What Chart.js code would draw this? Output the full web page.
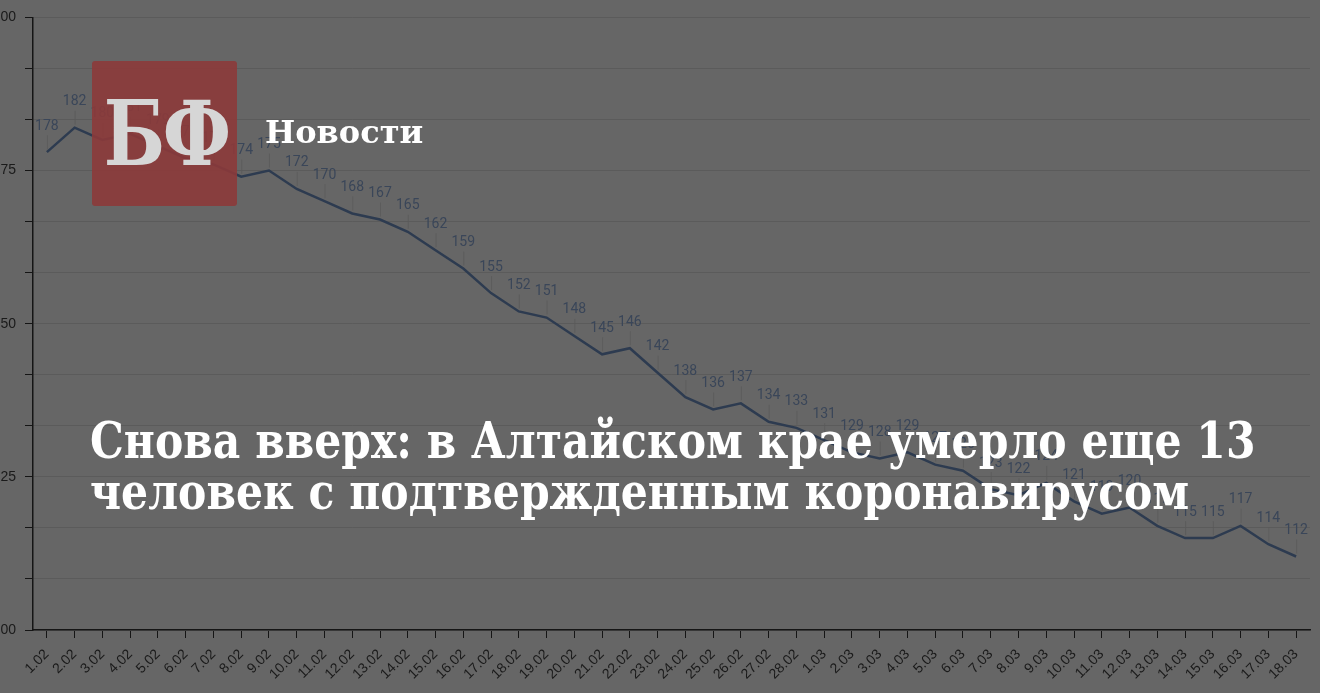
<!DOCTYPE html>
<html lang="ru">
<head>
    <meta charset="UTF-8">
    <script src="https://cdn.jsdelivr.net/npm/chart.js@4.4.1/dist/chart.umd.min.js"></script>
    <title>Снова вверх</title>
    <style>
        html, body { margin: 0; padding: 0; background: #666666; }
        #page { position: relative; width: 1320px; height: 693px; overflow: hidden; background: #666666; }
        #chartCanvas { position: absolute; left: -12px; top: 0; }
        #logo {
            position: absolute; left: 92px; top: 61px; width: 145px; height: 145px;
            background: rgba(140, 58, 58, 0.9); border-radius: 3px;
            color: #d6d6d6; font-family: "DejaVu Serif", serif; font-weight: bold;
            font-size: 90px; line-height: 145px; text-align: center; letter-spacing: -3px;
        }
        #logo span { display: inline-block; position: relative; left: -4px; transform: scaleX(0.8); }
        #rubric {
            position: absolute; left: 265px; top: 116px; color: #fff;
            font-family: "DejaVu Serif", serif; font-weight: bold; font-size: 32px; line-height: 32px;
        }
        #title {
            position: absolute; left: 90px; top: 415px; color: #fff; white-space: nowrap;
            font-family: "DejaVu Serif", serif; font-weight: bold; font-size: 50px; line-height: 51px;
            transform: scaleX(0.85); transform-origin: left top;
        }
    </style>
</head>
<body>
<div id="page">
    <canvas id="chartCanvas" width="1332" height="693"></canvas>
    <div id="logo"><span>БФ</span></div>
    <div id="rubric">Новости</div>
    <div id="title">Снова вверх: в Алтайском крае умерло еще 13<br>человек с подтвержденным коронавирусом</div>
</div>

<script>
    // даты
    const dates = [
        '1.02', '2.02', '3.02', '4.02', '5.02', '6.02', '7.02', '8.02', '9.02', '10.02',
        '11.02', '12.02', '13.02', '14.02', '15.02', '16.02', '17.02', '18.02', '19.02', '20.02',
        '21.02', '22.02', '23.02', '24.02', '25.02', '26.02', '27.02', '28.02',
        '1.03', '2.03', '3.03', '4.03', '5.03', '6.03', '7.03', '8.03', '9.03', '10.03',
        '11.03', '12.03', '13.03', '14.03', '15.03', '16.03', '17.03', '18.03'
    ];

    // значения по дням
    const values = [
        178, 182, 180, 181, 179, 177, 176, 174, 175, 172,
        170, 168, 167, 165, 162, 159, 155, 152, 151, 148,
        145, 146, 142, 138, 136, 137, 134, 133,
        131, 129, 128, 129, 127, 126, 123, 122, 124, 121,
        119, 120, 117, 115, 115, 117, 114, 112
    ];

    const yMin = 100;
    const yMax = 200;
    const yStep = 25 / 3;
    const yLabelEvery = 25;

    // подписи значений над точками
    const valueLabels = {
        id: 'valueLabels',
        afterDatasetsDraw(chart) {
            const ctx = chart.ctx;
            const meta = chart.getDatasetMeta(0);
            ctx.save();
            ctx.font = '14px Roboto';
            ctx.textAlign = 'center';
            ctx.textBaseline = 'middle';
            meta.data.forEach((pt, i) => {
                ctx.strokeStyle = 'rgba(90, 90, 90, 0.8)';
                ctx.lineWidth = 1;
                ctx.beginPath();
                ctx.moveTo(pt.x + 0.5, pt.y - 17);
                ctx.lineTo(pt.x + 0.5, pt.y - 3);
                ctx.stroke();
                ctx.fillStyle = '#3a4659';
                ctx.fillText(values[i], pt.x, pt.y - 26);
            });
            ctx.restore();
        }
    };

    const ctx = document.getElementById('chartCanvas').getContext('2d');
    new Chart(ctx, {
        type: 'line',
        data: {
            labels: dates,
            datasets: [{
                data: values,
                borderColor: '#2d3b50',
                borderWidth: 2.5,
                pointRadius: 0,
                tension: 0,
                fill: false
            }]
        },
        options: {
            responsive: false,
            animation: false,
            layout: { padding: { top: 13, right: 10, left: 0, bottom: 0 } },
            plugins: {
                legend: { display: false },
                tooltip: { enabled: false }
            },
            scales: {
                x: {
                    offset: true,
                    afterFit: (scale) => { scale.height = 63; },
                    grid: {
                        offset: false,
                        drawOnChartArea: false,
                        drawTicks: true,
                        tickLength: 8,
                        tickColor: '#151515'
                    },
                    border: { color: '#151515', width: 1.5 },
                    ticks: {
                        autoSkip: false,
                        maxRotation: 45,
                        minRotation: 45,
                        padding: 8,
                        color: '#1a1a1a',
                        font: { family: 'Liberation Sans', size: 14 }
                    }
                },
                y: {
                    min: yMin,
                    max: yMax,
                    afterFit: (scale) => { scale.width = 45; },
                    grid: {
                        color: '#5b5b5b',
                        lineWidth: 1,
                        tickLength: 8,
                        tickColor: '#151515'
                    },
                    border: { color: '#151515', width: 1.5 },
                    ticks: {
                        stepSize: yStep,
                        padding: 9,
                        color: '#1a1a1a',
                        font: { family: 'Liberation Sans', size: 14 },
                        callback: function (value) {
                            const k = value / yLabelEvery;
                            return Math.abs(k - Math.round(k)) < 1e-6 ? Math.round(value) : '';
                        }
                    }
                }
            }
        },
        plugins: [valueLabels]
    });
</script>
</body>
</html>
